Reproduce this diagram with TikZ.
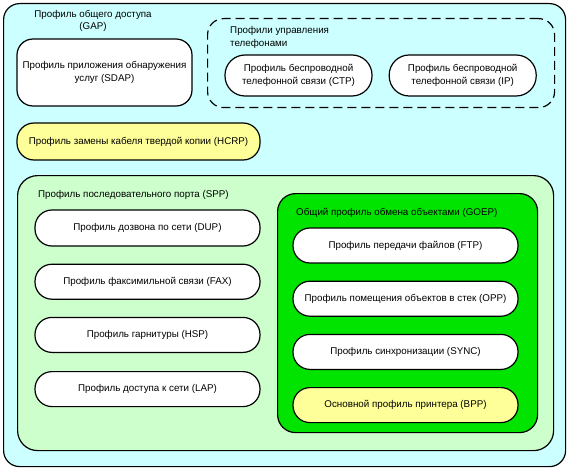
\documentclass[tikz,border=0pt]{standalone}
\usepackage{fontspec}
\setmainfont{Liberation Sans}
\usepackage{tikz}
\usetikzlibrary{positioning}
\definecolor{skyfill}{RGB}{204,255,255}
\definecolor{mintfill}{RGB}{204,255,204}
\definecolor{goepfill}{RGB}{0,228,0}
\definecolor{lemonfill}{RGB}{255,255,153}

\begin{document}
\begin{tikzpicture}[x=1pt,y=-1pt,
	frame/.style={draw, line width=1.2pt, rounded corners=16pt, anchor=north west, inner sep=0pt},
	pill/.style={draw, line width=1.2pt, fill=white, rounded corners=17pt, align=center, inner sep=0pt, font=\fontsize{9.8}{12.5}\selectfont},
	caption/.style={inner sep=0pt, font=\fontsize{9.8}{12.5}\selectfont}]
			\useasboundingbox (0,0) rectangle (569,473);
			\node[frame, fill=skyfill, minimum width=562pt, minimum height=463pt] (outer) at (3,3) {};
			\node[caption, align=center] (gaptitle) at (93,21) {Профиль общего доступа\\(GAP)};
			\node[pill, rounded corners=16pt, minimum width=175pt, minimum height=67pt] (sdap) at (104.5,72.5) {Профиль приложения обнаружения\\услуг (SDAP)};
			\node[frame, dashed, dash pattern=on 9pt off 5pt, minimum width=347pt, minimum height=89pt] (phones) at (207,18) {};
			\node[caption, align=left, anchor=west] (phonestitle) at (230,37.5) {Профили управления\\телефонами};
			\node[pill, rounded corners=20pt, minimum width=147pt, minimum height=41pt] (ctp) at (298.5,75.5) {Профиль беспроводной\\телефонной связи (CTP)};
			\node[pill, rounded corners=20pt, minimum width=147pt, minimum height=41pt, right=16pt of ctp] (ip) {Профиль беспроводной\\телефонной связи (IP)};
			\node[pill, fill=lemonfill, minimum width=243pt, minimum height=37pt] (hcrp) at (138.5,141.5) {Профиль замены кабеля твердой копии (HCRP)};
			\node[frame, fill=mintfill, rounded corners=20pt, minimum width=536pt, minimum height=275pt] (spp) at (17,175) {};
			\node[caption, anchor=west] (spptitle) at (38,195) {Профиль последовательного порта (SPP)};
			\node[pill, minimum width=225pt, minimum height=36pt] (dup) at (147.5,228) {Профиль дозвона по сети (DUP)};
			\node[pill, minimum width=225pt, minimum height=35pt, below=17pt of dup] (fax) {Профиль факсимильной связи (FAX)};
			\node[pill, minimum width=225pt, minimum height=35pt, below=17pt of fax] (hsp) {Профиль гарнитуры (HSP)};
			\node[pill, minimum width=225pt, minimum height=35pt, below=18pt of hsp] (lap) {Профиль доступа к сети (LAP)};
			\node[frame, fill=goepfill, rounded corners=18pt, minimum width=260pt, minimum height=239pt] (goep) at (277,193) {};
			\node[caption, anchor=west] (goeptitle) at (296,213) {Общий профиль обмена объектами (GOEP)};
			\node[pill, minimum width=225pt, minimum height=35pt] (ftp) at (405.5,245.5) {Профиль передачи файлов (FTP)};
			\node[pill, minimum width=225pt, minimum height=35pt, below=17pt of ftp] (opp) {Профиль помещения объектов в стек (OPP)};
			\node[pill, minimum width=225pt, minimum height=35pt, below=17pt of opp] (sync) {Профиль синхронизации (SYNC)};
			\node[pill, fill=lemonfill, minimum width=225pt, minimum height=35pt, below=17pt of sync] (bpp) {Основной профиль принтера (BPP)};
	\end{tikzpicture}
\end{document}
